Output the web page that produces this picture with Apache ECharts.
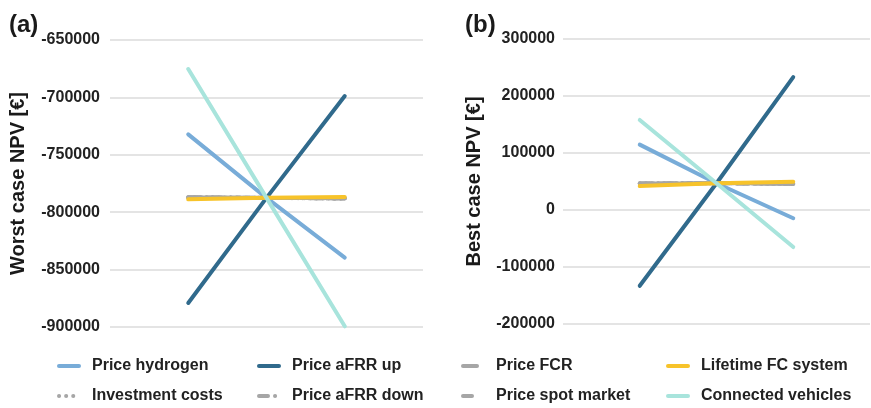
<!DOCTYPE html>
<html><head><meta charset="utf-8">
<script src="https://cdn.jsdelivr.net/npm/echarts@6/dist/echarts.min.js"></script>
<style>html,body{margin:0;padding:0;background:#fff}#c{width:871px;height:408px}</style>
</head><body><div id="c"></div>
<script>
// Sensitivity points: low, base, high (first/last slots are empty padding)
const xCats = ['', 'low', 'base', 'high', ''];
const seriesNames = ['Price hydrogen','Investment costs','Price aFRR up','Price aFRR down','Price FCR','Price spot market','Lifetime FC system','Connected vehicles'];
// (a) worst case NPV [€]
const worstHydrogen   = [-732200, -787500, -839500];
const worstInvest     = [-787000, -787500, -788300];
const worstAfrrUp     = [-879100, -787500, -698800];
const worstAfrrDown   = [-786900, -787500, -788100];
const worstFCR        = [-787100, -787500, -787800];
const worstSpot       = [-787200, -787500, -787900];
const worstLifetime   = [-788800, -787500, -786800];
const worstVehicles   = [-675300, -787500, -899400];
// (b) best case NPV [€]
const bestHydrogen    = [114700, 47000, -14500];
const bestInvest      = [46800, 47000, 45600];
const bestAfrrUp      = [-133000, 47000, 233000];
const bestAfrrDown    = [46600, 47000, 45800];
const bestFCR         = [46400, 47000, 46000];
const bestSpot        = [46200, 47000, 46200];
const bestLifetime    = [41900, 47000, 49600];
const bestVehicles    = [158000, 47000, -65000];
// axis ticks
const worstAxis = {min: -900000, max: -650000, interval: 50000};
const bestAxis  = {min: -200000, max: 300000, interval: 100000};

const colors = ['#78acd8','#a6a6a6','#306a8c','#a6a6a6','#a6a6a6','#a6a6a6','#f7c32a','#a8e4dc'];
const dashes = ['solid',[0.1,6],'solid',[12,6,0.1,6],[14,5],[10,4],'solid','solid'];
const iconDashes = ['solid',[0.1,7],'solid',[9,7,0.1,20],[14,20],[9,20],'solid','solid'];
const worstData = [worstHydrogen,worstInvest,worstAfrrUp,worstAfrrDown,worstFCR,worstSpot,worstLifetime,worstVehicles];
const bestData  = [bestHydrogen,bestInvest,bestAfrrUp,bestAfrrDown,bestFCR,bestSpot,bestLifetime,bestVehicles];

const pad = v => [null, v[0], v[1], v[2], null];
const font = 'Liberation Sans, Arial, sans-serif';
function mkSeries(data, gi) {
  return seriesNames.map((n, i) => ({
    name: n, type: 'line', xAxisIndex: gi, yAxisIndex: gi,
    data: pad(data[i]), symbol: 'none', showSymbol: false, silent: true,
    lineStyle: {color: colors[i], width: 4, type: dashes[i], cap: 'round'},
    itemStyle: {color: colors[i]}
  }));
}
const yAx = (ax, gi, name, gap) => ({
  type: 'value', gridIndex: gi, min: ax.min, max: ax.max, interval: ax.interval,
  name: name, nameLocation: 'middle', nameGap: gap,
  nameTextStyle: {fontFamily: font, fontWeight: 'bold', fontSize: 20, color: '#1a1a1a'},
  axisLine: {show: false}, axisTick: {show: false},
  axisLabel: {fontFamily: font, fontWeight: 'bold', fontSize: 16, color: '#222', margin: gi === 0 ? 10 : 8,
    formatter: v => String(v)},
  splitLine: {lineStyle: {color: '#e4e4e4', width: 2}}
});
const xAx = gi => ({type: 'category', gridIndex: gi, data: xCats, boundaryGap: false, show: false});
const legendCols = [[57, 0, 1], [257, 2, 3], [461, 4, 5], [666, 6, 7]];
const legItem = i => ({name: seriesNames[i],
  lineStyle: {color: colors[i], width: 4, type: iconDashes[i], cap: 'round'}});
const chart = echarts.init(document.getElementById('c'));
chart.setOption({
  animation: false,
  title: [
    {text: '(a)', left: 4, top: 8, textStyle: {fontFamily: font, fontWeight: 'bold', fontSize: 24, color: '#1a1a1a'}},
    {text: '(b)', left: 460, top: 8, textStyle: {fontFamily: font, fontWeight: 'bold', fontSize: 24, color: '#1a1a1a'}}
  ],
  grid: [
    {left: 110, right: 448, top: 40, bottom: 81},
    {left: 563, right: 1, top: 39, bottom: 84}
  ],
  xAxis: [xAx(0), xAx(1)],
  yAxis: [yAx(worstAxis, 0, 'Worst case NPV [€]', 82), yAx(bestAxis, 1, 'Best case NPV [€]', 79)],
  legend: legendCols.map(c => ({
    orient: 'vertical', left: c[0], top: 358, padding: 0, itemWidth: 20, itemHeight: 14, itemGap: 14,
    data: [legItem(c[1]), legItem(c[2])], selectedMode: false,
    itemStyle: {opacity: 0},
    textStyle: {fontFamily: font, fontWeight: 'bold', fontSize: 16, color: '#222', padding: [0,0,0,8]}
  })),
  series: mkSeries(worstData, 0).concat(mkSeries(bestData, 1))
});
</script></body></html>
